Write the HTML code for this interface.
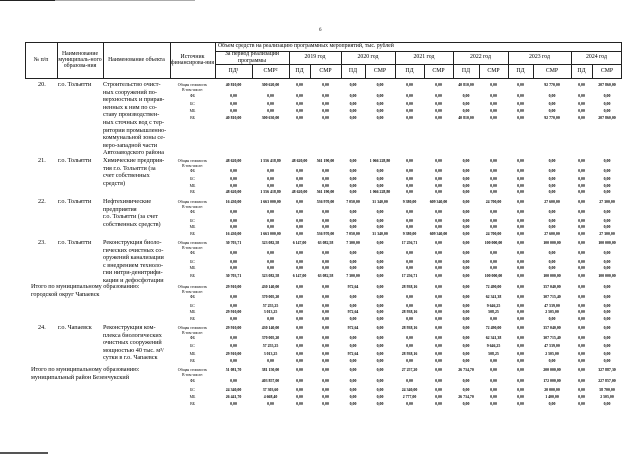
<!DOCTYPE html>
<html><head><meta charset="utf-8"><style>
body{margin:0;background:#fff;width:640px;height:454px;overflow:hidden;position:relative;font-family:"Liberation Serif",serif;color:#000}
.a{position:absolute;white-space:nowrap}
.l{position:absolute;background:#222}
.h{position:absolute;font-size:5.8px;line-height:6.2px;text-align:center;display:flex;align-items:center;justify-content:center}
.d{position:absolute;font-size:6.2px;line-height:7.6px;white-space:nowrap}
.r{position:absolute;left:170px;display:flex;font-size:3.9px;line-height:4px;white-space:nowrap;font-weight:bold}
.r span{text-align:center;display:block}
.r span:nth-child(1){width:45px;font-weight:normal}
.r span:nth-child(2),.r span:nth-child(3){width:37px}
.r span:nth-child(4){width:21px}.r span:nth-child(5){width:31px}
.r span:nth-child(6){width:24px}.r span:nth-child(7){width:30px}
.r span:nth-child(8){width:29px}.r span:nth-child(9){width:29px}
.r span:nth-child(10){width:26px}.r span:nth-child(11){width:29px}
.r span:nth-child(12){width:25px}.r span:nth-child(13){width:38px}
.r span:nth-child(14){width:21px}.r span:nth-child(15){width:30px}
</style></head><body>
<div class="l" style="left:0;top:0;width:55px;height:1px"></div>
<div class="l" style="left:55px;top:0;width:140px;height:1px;background:#aaa"></div>
<div class="a" style="left:319px;top:28px;font-size:5px">6</div>
<div class="l" style="left:25px;top:42px;width:597px;height:1px"></div>
<div class="l" style="left:215px;top:51px;width:407px;height:1px"></div>
<div class="l" style="left:215px;top:64px;width:407px;height:1px"></div>
<div class="l" style="left:25px;top:78px;width:597px;height:1px"></div>
<div class="l" style="left:25px;top:42px;width:1px;height:37px"></div>
<div class="l" style="left:57px;top:42px;width:1px;height:37px"></div>
<div class="l" style="left:103px;top:42px;width:1px;height:37px"></div>
<div class="l" style="left:170px;top:42px;width:1px;height:37px"></div>
<div class="l" style="left:215px;top:42px;width:1px;height:37px"></div>
<div class="l" style="left:621px;top:42px;width:1px;height:37px"></div>
<div class="l" style="left:289px;top:51px;width:1px;height:28px"></div>
<div class="l" style="left:341px;top:51px;width:1px;height:28px"></div>
<div class="l" style="left:395px;top:51px;width:1px;height:28px"></div>
<div class="l" style="left:453px;top:51px;width:1px;height:28px"></div>
<div class="l" style="left:508px;top:51px;width:1px;height:28px"></div>
<div class="l" style="left:571px;top:51px;width:1px;height:28px"></div>
<div class="l" style="left:252px;top:64px;width:1px;height:15px"></div>
<div class="l" style="left:310px;top:64px;width:1px;height:15px"></div>
<div class="l" style="left:365px;top:64px;width:1px;height:15px"></div>
<div class="l" style="left:424px;top:64px;width:1px;height:15px"></div>
<div class="l" style="left:479px;top:64px;width:1px;height:15px"></div>
<div class="l" style="left:533px;top:64px;width:1px;height:15px"></div>
<div class="l" style="left:592px;top:64px;width:1px;height:15px"></div>
<div class="h" style="left:25px;top:42px;width:32px;height:36px">№ п/п</div>
<div class="h" style="left:57px;top:42px;width:46px;height:36px">Наименование муниципаль-ного образова-ния</div>
<div class="h" style="left:103px;top:42px;width:67px;height:36px">Наименование объекта</div>
<div class="h" style="left:170px;top:42px;width:45px;height:36px">Источник финансирова-ния</div>
<div class="h" style="left:218px;top:42px;width:300px;height:9px;justify-content:flex-start">Объем средств на реализацию программных мероприятий, тыс. рублей</div>
<div class="h" style="left:215px;top:51px;width:74px;height:13px">За период реализации программы</div>
<div class="h" style="left:289px;top:51px;width:52px;height:13px">2019 год</div>
<div class="h" style="left:341px;top:51px;width:54px;height:13px">2020 год</div>
<div class="h" style="left:395px;top:51px;width:58px;height:13px">2021 год</div>
<div class="h" style="left:453px;top:51px;width:55px;height:13px">2022 год</div>
<div class="h" style="left:508px;top:51px;width:63px;height:13px">2023 год</div>
<div class="h" style="left:571px;top:51px;width:51px;height:13px">2024 год</div>
<div class="h" style="left:215px;top:64px;width:37px;height:14px">ПД¹</div>
<div class="h" style="left:252px;top:64px;width:37px;height:14px">СМР²</div>
<div class="h" style="left:289px;top:64px;width:21px;height:14px">ПД</div><div class="h" style="left:310px;top:64px;width:31px;height:14px">СМР</div>
<div class="h" style="left:341px;top:64px;width:24px;height:14px">ПД</div><div class="h" style="left:365px;top:64px;width:30px;height:14px">СМР</div>
<div class="h" style="left:395px;top:64px;width:29px;height:14px">ПД</div><div class="h" style="left:424px;top:64px;width:29px;height:14px">СМР</div>
<div class="h" style="left:453px;top:64px;width:26px;height:14px">ПД</div><div class="h" style="left:479px;top:64px;width:29px;height:14px">СМР</div>
<div class="h" style="left:508px;top:64px;width:25px;height:14px">ПД</div><div class="h" style="left:533px;top:64px;width:38px;height:14px">СМР</div>
<div class="h" style="left:571px;top:64px;width:21px;height:14px">ПД</div><div class="h" style="left:592px;top:64px;width:30px;height:14px">СМР</div>

<div class="d" style="left:38px;top:81px">20.</div>
<div class="d" style="left:58px;top:81px">г.о. Тольятти</div>
<div class="d" style="left:103px;top:81px">Строительство очист-<br>ных сооружений по-<br>верхностных и прирав-<br>ненных к ним по со-<br>ставу производствен-<br>ных сточных вод с тер-<br>ритории промышленно-<br>коммунальной зоны се-<br>веро-западной части<br>Автозаводского района</div>
<div class="r" style="top:83px"><span>Общая стоимость</span><span>40 810,00</span><span>300 620,00</span><span>0,00</span><span>0,00</span><span>0,00</span><span>0,00</span><span>0,00</span><span>0,00</span><span>40 810,00</span><span>0,00</span><span>0,00</span><span>92 770,00</span><span>0,00</span><span>207 860,00</span></div>
<div class="r" style="top:88px"><span>В том числе:</span></div>
<div class="r" style="top:94px"><span>ФБ</span><span>0,00</span><span>0,00</span><span>0,00</span><span>0,00</span><span>0,00</span><span>0,00</span><span>0,00</span><span>0,00</span><span>0,00</span><span>0,00</span><span>0,00</span><span>0,00</span><span>0,00</span><span>0,00</span></div>
<div class="r" style="top:102px"><span>БС</span><span>0,00</span><span>0,00</span><span>0,00</span><span>0,00</span><span>0,00</span><span>0,00</span><span>0,00</span><span>0,00</span><span>0,00</span><span>0,00</span><span>0,00</span><span>0,00</span><span>0,00</span><span>0,00</span></div>
<div class="r" style="top:109px"><span>МБ</span><span>0,00</span><span>0,00</span><span>0,00</span><span>0,00</span><span>0,00</span><span>0,00</span><span>0,00</span><span>0,00</span><span>0,00</span><span>0,00</span><span>0,00</span><span>0,00</span><span>0,00</span><span>0,00</span></div>
<div class="r" style="top:116px"><span>ВБ</span><span>40 810,00</span><span>300 630,00</span><span>0,00</span><span>0,00</span><span>0,00</span><span>0,00</span><span>0,00</span><span>0,00</span><span>40 810,00</span><span>0,00</span><span>0,00</span><span>92 770,00</span><span>0,00</span><span>207 860,00</span></div>

<div class="d" style="left:38px;top:157px">21.</div>
<div class="d" style="left:58px;top:157px">г.о. Тольятти</div>
<div class="d" style="left:103px;top:157px">Химические предприя-<br>тия г.о. Тольятти (за<br>счет собственных<br>средств)</div>
<div class="r" style="top:159px"><span>Общая стоимость</span><span>48 620,00</span><span>1 556 418,80</span><span>48 620,00</span><span>561 190,00</span><span>0,00</span><span>1 066 228,80</span><span>0,00</span><span>0,00</span><span>0,00</span><span>0,00</span><span>0,00</span><span>0,00</span><span>0,00</span><span>0,00</span></div>
<div class="r" style="top:164px"><span>В том числе:</span></div>
<div class="r" style="top:169px"><span>ФБ</span><span>0,00</span><span>0,00</span><span>0,00</span><span>0,00</span><span>0,00</span><span>0,00</span><span>0,00</span><span>0,00</span><span>0,00</span><span>0,00</span><span>0,00</span><span>0,00</span><span>0,00</span><span>0,00</span></div>
<div class="r" style="top:177px"><span>БС</span><span>0,00</span><span>0,00</span><span>0,00</span><span>0,00</span><span>0,00</span><span>0,00</span><span>0,00</span><span>0,00</span><span>0,00</span><span>0,00</span><span>0,00</span><span>0,00</span><span>0,00</span><span>0,00</span></div>
<div class="r" style="top:184px"><span>МБ</span><span>0,00</span><span>0,00</span><span>0,00</span><span>0,00</span><span>0,00</span><span>0,00</span><span>0,00</span><span>0,00</span><span>0,00</span><span>0,00</span><span>0,00</span><span>0,00</span><span>0,00</span><span>0,00</span></div>
<div class="r" style="top:190px"><span>ВБ</span><span>48 620,00</span><span>1 556 418,80</span><span>48 620,00</span><span>561 190,00</span><span>0,00</span><span>1 066 228,80</span><span>0,00</span><span>0,00</span><span>0,00</span><span>0,00</span><span>0,00</span><span>0,00</span><span>0,00</span><span>0,00</span></div>

<div class="d" style="left:38px;top:198px">22.</div>
<div class="d" style="left:58px;top:198px">г.о. Тольятти</div>
<div class="d" style="left:103px;top:198px">Нефтехимические<br>предприятия<br>г.о. Тольятти (за счет<br>собственных средств)</div>
<div class="r" style="top:200px"><span>Общая стоимость</span><span>16 430,00</span><span>1 663 000,00</span><span>0,00</span><span>536 970,00</span><span>7 050,00</span><span>31 340,00</span><span>9 380,00</span><span>609 340,00</span><span>0,00</span><span>24 700,00</span><span>0,00</span><span>27 600,00</span><span>0,00</span><span>27 300,00</span></div>
<div class="r" style="top:205px"><span>В том числе:</span></div>
<div class="r" style="top:210px"><span>ФБ</span><span>0,00</span><span>0,00</span><span>0,00</span><span>0,00</span><span>0,00</span><span>0,00</span><span>0,00</span><span>0,00</span><span>0,00</span><span>0,00</span><span>0,00</span><span>0,00</span><span>0,00</span><span>0,00</span></div>
<div class="r" style="top:219px"><span>БС</span><span>0,00</span><span>0,00</span><span>0,00</span><span>0,00</span><span>0,00</span><span>0,00</span><span>0,00</span><span>0,00</span><span>0,00</span><span>0,00</span><span>0,00</span><span>0,00</span><span>0,00</span><span>0,00</span></div>
<div class="r" style="top:225px"><span>МБ</span><span>0,00</span><span>0,00</span><span>0,00</span><span>0,00</span><span>0,00</span><span>0,00</span><span>0,00</span><span>0,00</span><span>0,00</span><span>0,00</span><span>0,00</span><span>0,00</span><span>0,00</span><span>0,00</span></div>
<div class="r" style="top:232px"><span>ВБ</span><span>16 430,00</span><span>1 663 000,00</span><span>0,00</span><span>536 970,00</span><span>7 050,00</span><span>31 340,00</span><span>9 380,00</span><span>609 340,00</span><span>0,00</span><span>24 700,00</span><span>0,00</span><span>27 600,00</span><span>0,00</span><span>27 300,00</span></div>

<div class="d" style="left:38px;top:239px">23.</div>
<div class="d" style="left:58px;top:239px">г.о. Тольятти</div>
<div class="d" style="left:103px;top:239px">Реконструкция биоло-<br>гических очистных со-<br>оружений канализации<br>с внедрением техноло-<br>гии нитри-денитрифи-<br>кации и дефосфотации</div>
<div class="r" style="top:241px"><span>Общая стоимость</span><span>30 703,71</span><span>323 082,58</span><span>6 147,00</span><span>63 082,58</span><span>7 300,00</span><span>0,00</span><span>17 256,71</span><span>0,00</span><span>0,00</span><span>100 000,00</span><span>0,00</span><span>100 000,00</span><span>0,00</span><span>100 000,00</span></div>
<div class="r" style="top:246px"><span>В том числе:</span></div>
<div class="r" style="top:251px"><span>ФБ</span><span>0,00</span><span>0,00</span><span>0,00</span><span>0,00</span><span>0,00</span><span>0,00</span><span>0,00</span><span>0,00</span><span>0,00</span><span>0,00</span><span>0,00</span><span>0,00</span><span>0,00</span><span>0,00</span></div>
<div class="r" style="top:260px"><span>БС</span><span>0,00</span><span>0,00</span><span>0,00</span><span>0,00</span><span>0,00</span><span>0,00</span><span>0,00</span><span>0,00</span><span>0,00</span><span>0,00</span><span>0,00</span><span>0,00</span><span>0,00</span><span>0,00</span></div>
<div class="r" style="top:266px"><span>МБ</span><span>0,00</span><span>0,00</span><span>0,00</span><span>0,00</span><span>0,00</span><span>0,00</span><span>0,00</span><span>0,00</span><span>0,00</span><span>0,00</span><span>0,00</span><span>0,00</span><span>0,00</span><span>0,00</span></div>
<div class="r" style="top:274px"><span>ВБ</span><span>30 703,71</span><span>323 082,58</span><span>6 147,00</span><span>63 082,58</span><span>7 300,00</span><span>0,00</span><span>17 256,71</span><span>0,00</span><span>0,00</span><span>100 000,00</span><span>0,00</span><span>100 000,00</span><span>0,00</span><span>100 000,00</span></div>

<div class="d" style="left:31px;top:283px">Итого по муниципальному образованию:<br>городской округ Чапаевск</div>
<div class="r" style="top:285px"><span>Общая стоимость</span><span>29 910,00</span><span>430 140,00</span><span>0,00</span><span>0,00</span><span>972,64</span><span>0,00</span><span>28 938,16</span><span>0,00</span><span>0,00</span><span>72 490,00</span><span>0,00</span><span>357 040,00</span><span>0,00</span><span>0,00</span></div>
<div class="r" style="top:290px"><span>В том числе:</span></div>
<div class="r" style="top:295px"><span>ФБ</span><span>0,00</span><span>370 005,20</span><span>0,00</span><span>0,00</span><span>0,00</span><span>0,00</span><span>0,00</span><span>0,00</span><span>0,00</span><span>62 341,38</span><span>0,00</span><span>307 715,40</span><span>0,00</span><span>0,00</span></div>
<div class="r" style="top:304px"><span>БС</span><span>0,00</span><span>57 255,25</span><span>0,00</span><span>0,00</span><span>0,00</span><span>0,00</span><span>0,00</span><span>0,00</span><span>0,00</span><span>9 646,25</span><span>0,00</span><span>47 539,00</span><span>0,00</span><span>0,00</span></div>
<div class="r" style="top:310px"><span>МБ</span><span>29 910,00</span><span>3 013,25</span><span>0,00</span><span>0,00</span><span>972,64</span><span>0,00</span><span>28 938,16</span><span>0,00</span><span>0,00</span><span>508,25</span><span>0,00</span><span>2 505,00</span><span>0,00</span><span>0,00</span></div>
<div class="r" style="top:317px"><span>ВБ</span><span>0,00</span><span>0,00</span><span>0,00</span><span>0,00</span><span>0,00</span><span>0,00</span><span>0,00</span><span>0,00</span><span>0,00</span><span>0,00</span><span>0,00</span><span>0,00</span><span>0,00</span><span>0,00</span></div>

<div class="d" style="left:38px;top:324px">24.</div>
<div class="d" style="left:58px;top:324px">г.о. Чапаевск</div>
<div class="d" style="left:103px;top:324px">Реконструкция ком-<br>плекса биологических<br>очистных сооружений<br>мощностью 40 тыс. м³/<br>сутки в г.о. Чапаевск</div>
<div class="r" style="top:326px"><span>Общая стоимость</span><span>29 910,00</span><span>430 140,00</span><span>0,00</span><span>0,00</span><span>972,64</span><span>0,00</span><span>28 938,16</span><span>0,00</span><span>0,00</span><span>72 490,00</span><span>0,00</span><span>357 040,00</span><span>0,00</span><span>0,00</span></div>
<div class="r" style="top:331px"><span>В том числе:</span></div>
<div class="r" style="top:336px"><span>ФБ</span><span>0,00</span><span>370 005,20</span><span>0,00</span><span>0,00</span><span>0,00</span><span>0,00</span><span>0,00</span><span>0,00</span><span>0,00</span><span>62 341,38</span><span>0,00</span><span>307 715,40</span><span>0,00</span><span>0,00</span></div>
<div class="r" style="top:344px"><span>БС</span><span>0,00</span><span>57 255,25</span><span>0,00</span><span>0,00</span><span>0,00</span><span>0,00</span><span>0,00</span><span>0,00</span><span>0,00</span><span>9 646,25</span><span>0,00</span><span>47 539,00</span><span>0,00</span><span>0,00</span></div>
<div class="r" style="top:352px"><span>МБ</span><span>29 910,00</span><span>3 013,25</span><span>0,00</span><span>0,00</span><span>972,64</span><span>0,00</span><span>28 938,16</span><span>0,00</span><span>0,00</span><span>508,25</span><span>0,00</span><span>2 505,00</span><span>0,00</span><span>0,00</span></div>
<div class="r" style="top:359px"><span>ВБ</span><span>0,00</span><span>0,00</span><span>0,00</span><span>0,00</span><span>0,00</span><span>0,00</span><span>0,00</span><span>0,00</span><span>0,00</span><span>0,00</span><span>0,00</span><span>0,00</span><span>0,00</span><span>0,00</span></div>

<div class="d" style="left:31px;top:366px">Итого по муниципальному образованию:<br>муниципальный район Безенчукский</div>
<div class="r" style="top:368px"><span>Общая стоимость</span><span>51 081,70</span><span>381 150,00</span><span>0,00</span><span>0,00</span><span>0,00</span><span>0,00</span><span>27 257,20</span><span>0,00</span><span>26 734,70</span><span>0,00</span><span>0,00</span><span>200 000,00</span><span>0,00</span><span>327 887,30</span></div>
<div class="r" style="top:373px"><span>В том числе:</span></div>
<div class="r" style="top:379px"><span>ФБ</span><span>0,00</span><span>403 857,00</span><span>0,00</span><span>0,00</span><span>0,00</span><span>0,00</span><span>0,00</span><span>0,00</span><span>0,00</span><span>0,00</span><span>0,00</span><span>172 000,00</span><span>0,00</span><span>227 857,00</span></div>
<div class="r" style="top:388px"><span>БС</span><span>24 340,00</span><span>37 303,60</span><span>0,00</span><span>0,00</span><span>0,00</span><span>0,00</span><span>24 340,00</span><span>0,00</span><span>0,00</span><span>0,00</span><span>0,00</span><span>20 000,00</span><span>0,00</span><span>58 700,00</span></div>
<div class="r" style="top:395px"><span>МБ</span><span>26 441,70</span><span>4 668,40</span><span>0,00</span><span>0,00</span><span>0,00</span><span>0,00</span><span>2 777,00</span><span>0,00</span><span>26 734,70</span><span>0,00</span><span>0,00</span><span>1 400,00</span><span>0,00</span><span>2 505,00</span></div>
<div class="r" style="top:402px"><span>ВБ</span><span>0,00</span><span>0,00</span><span>0,00</span><span>0,00</span><span>0,00</span><span>0,00</span><span>0,00</span><span>0,00</span><span>0,00</span><span>0,00</span><span>0,00</span><span>0,00</span><span>0,00</span><span>0,00</span></div>
<div class="l" style="left:0;top:452px;width:48px;height:2px;background:#555"></div>
</body></html>
